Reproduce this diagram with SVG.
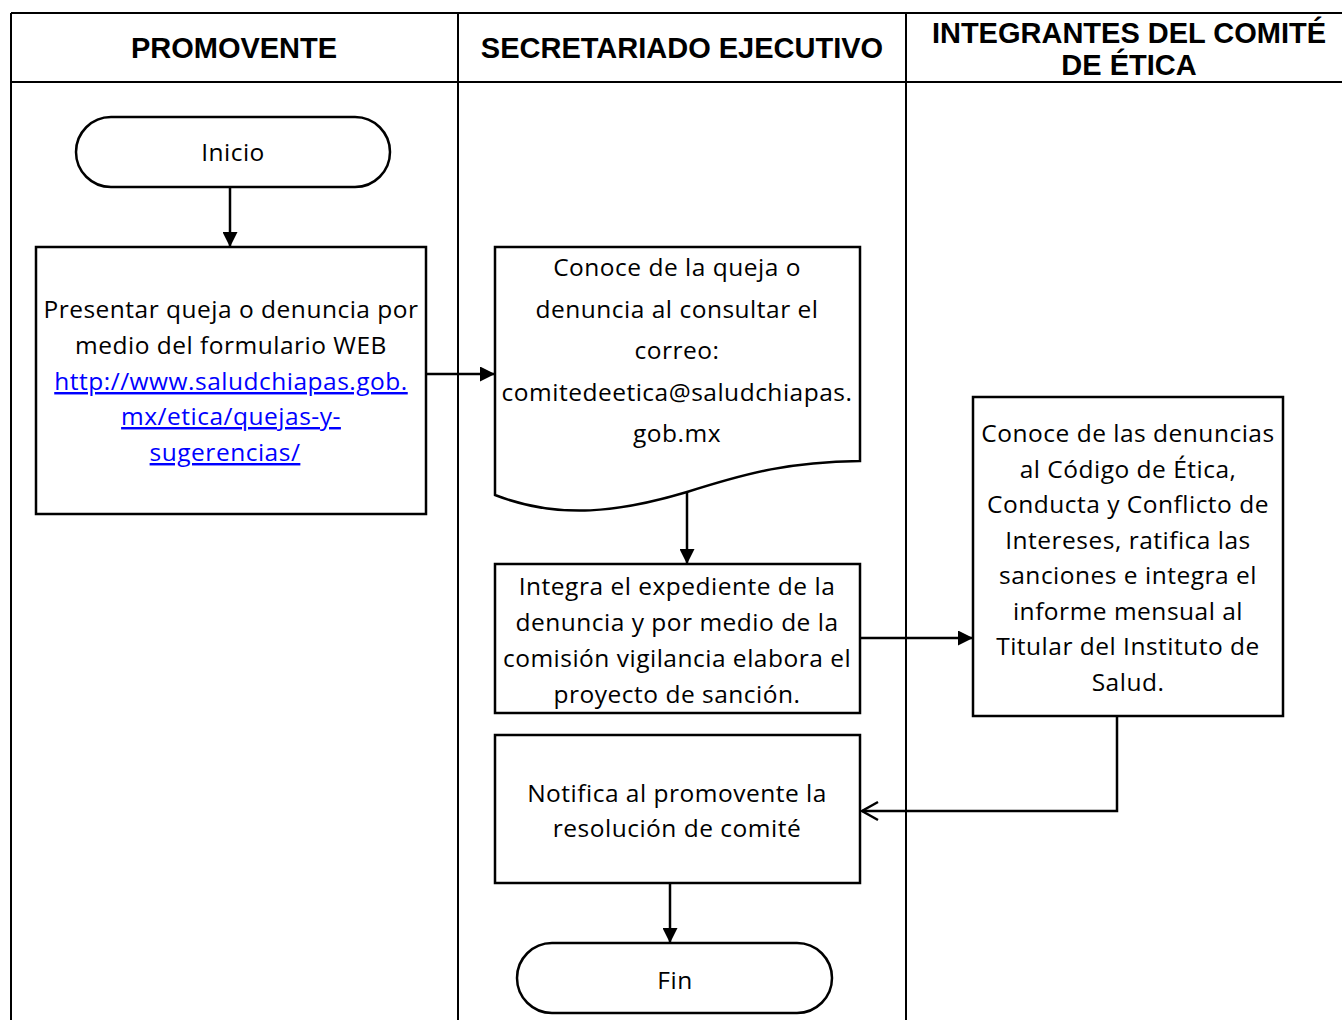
<svg xmlns="http://www.w3.org/2000/svg" width="1342" height="1020" viewBox="0 0 1342 1020">
<style>
.grid{stroke:#000;stroke-width:2;fill:none}
.box{fill:#fff;stroke:#000;stroke-width:2.5}
.hd{font-family:"Liberation Sans",Arial,sans-serif;font-weight:bold;font-size:29px;fill:#000;text-anchor:middle}
.t{font-family:"Open Sans","Liberation Sans",sans-serif;font-size:24.5px;fill:#000;text-anchor:middle;letter-spacing:0.5px}
.lk{fill:#0000FF;text-decoration:underline}
.ln{stroke:#000;stroke-width:2.5;fill:none}
</style>
<defs>
<marker id="ah" markerWidth="15" markerHeight="15" refX="15" refY="7.5" orient="auto" markerUnits="userSpaceOnUse">
<path d="M0,0 L15,7.5 L0,15 Z" fill="#000"/>
</marker>
</defs>
<rect width="1342" height="1020" fill="#fff"/>
<g id="table">
<line class="grid" x1="11" y1="13" x2="1342" y2="13"/>
<line class="grid" x1="11" y1="82" x2="1342" y2="82"/>
<line class="grid" x1="11" y1="13" x2="11" y2="1020"/>
<line class="grid" x1="458" y1="13" x2="458" y2="1020"/>
<line class="grid" x1="906" y1="13" x2="906" y2="1020"/>
<text class="hd" x="234" y="58">PROMOVENTE</text>
<text class="hd" x="682" y="58">SECRETARIADO EJECUTIVO</text>
<text class="hd" x="1129" y="43">INTEGRANTES DEL COMITÉ</text>
<text class="hd" x="1129" y="75">DE ÉTICA</text>
</g>
<g id="connectors">
<line class="ln" x1="230" y1="187" x2="230" y2="247" marker-end="url(#ah)"/>
<line class="ln" x1="426" y1="374" x2="495" y2="374" marker-end="url(#ah)"/>
<line class="ln" x1="687" y1="492" x2="687" y2="564" marker-end="url(#ah)"/>
<line class="ln" x1="860" y1="638" x2="973" y2="638" marker-end="url(#ah)"/>
<polyline class="ln" points="1117,716 1117,811 862,811"/>
<path class="ln" d="M878,802 L862,811 L878,820"/>
<line class="ln" x1="670" y1="883" x2="670" y2="943" marker-end="url(#ah)"/>
</g>
<g id="inicio">
<rect class="box" x="76" y="117" width="314" height="70" rx="35" ry="35"/>
<text class="t" x="233" y="161">Inicio</text>
</g>
<g id="presentar">
<rect class="box" x="36" y="247" width="390" height="267"/>
<text class="t" x="231" y="318">Presentar queja o denuncia por</text>
<text class="t" x="231" y="354">medio del formulario WEB</text>
<text class="t lk" x="231" y="390">http://www.saludchiapas.gob.</text>
<text class="t lk" x="231" y="425">mx/etica/quejas-y-</text>
<text class="t lk" x="225" y="461">sugerencias/</text>
</g>
<g id="conoce">
<path class="box" d="M495,247 L860,247 L860,461 C790,462 750,472 687,492 C620,512 560,520 495,495 Z"/>
<text class="t" x="677" y="276">Conoce de la queja o</text>
<text class="t" x="677" y="318">denuncia al consultar el</text>
<text class="t" x="677" y="359">correo:</text>
<text class="t" x="677" y="401">comitedeetica@saludchiapas.</text>
<text class="t" x="677" y="442">gob.mx</text>
</g>
<g id="integra">
<rect class="box" x="495" y="564" width="365" height="149"/>
<text class="t" x="677" y="595">Integra el expediente de la</text>
<text class="t" x="677" y="631">denuncia y por medio de la</text>
<text class="t" x="677" y="667">comisión vigilancia elabora el</text>
<text class="t" x="677" y="703">proyecto de sanción.</text>
</g>
<g id="comite">
<rect class="box" x="973" y="397" width="310" height="319"/>
<text class="t" x="1128" y="442">Conoce de las denuncias</text>
<text class="t" x="1128" y="478">al Código de Ética,</text>
<text class="t" x="1128" y="513">Conducta y Conflicto de</text>
<text class="t" x="1128" y="549">Intereses, ratifica las</text>
<text class="t" x="1128" y="584">sanciones e integra el</text>
<text class="t" x="1128" y="620">informe mensual al</text>
<text class="t" x="1128" y="655">Titular del Instituto de</text>
<text class="t" x="1128" y="691">Salud.</text>
</g>
<g id="notifica">
<rect class="box" x="495" y="735" width="365" height="148"/>
<text class="t" x="677" y="802">Notifica al promovente la</text>
<text class="t" x="677" y="837">resolución de comité</text>
</g>
<g id="fin">
<rect class="box" x="517" y="943" width="315" height="70" rx="35" ry="35"/>
<text class="t" x="675" y="989">Fin</text>
</g>
</svg>
